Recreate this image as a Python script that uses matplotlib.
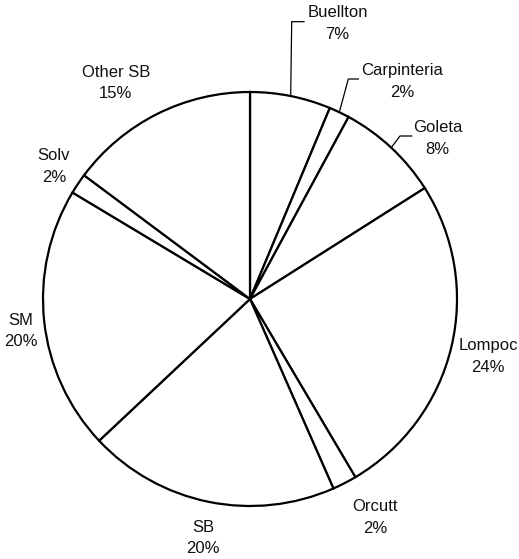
"""
Pie chart of share by city (Santa Barbara county).
Output: out.png (519x559)
"""

import numpy as np
import matplotlib.pyplot as plt

plt.rcParams["font.family"] = ["Liberation Sans", "DejaVu Sans"]

W, H = 519, 559

# slice sizes (percent), clockwise from 12 o'clock
cities = ["Buellton", "Carpinteria", "Goleta", "Lompoc", "Orcutt", "SB", "SM", "Solv", "Other SB"]
shares = [6.3, 1.6, 8.1, 25.5, 1.9, 19.6, 20.6, 1.6, 14.8]
pct_labels = ["7%", "2%", "8%", "24%", "2%", "20%", "20%", "2%", "15%"]

# label centres in pixel coords (top-left origin)
label_pos = [
    (337.5, 23.7), (402.5, 81.7), (437.5, 138.3), (488, 356.5), (375, 517.7),
    (203, 538), (21, 331), (54, 166.5), (115.7, 83),
]
# leader lines: city index -> (elbow, end) in pixels
leaders = {
    0: ((291.7, 21.7), (304, 21.7)),
    1: ((348.3, 79), (358.3, 79)),
    2: ((400, 136), (411.7, 136)),
}

CX, CY, R = 250, 299, 207


def px(x, y):
    return x, H - y


fig = plt.figure(figsize=(W / 100, H / 100), dpi=100)
ax = fig.add_axes([0, 0, 1, 1])

wedges, _ = ax.pie(
    shares,
    center=px(CX, CY),
    radius=R,
    startangle=90,
    counterclock=False,
    colors=["white"] * len(shares),
    wedgeprops=dict(edgecolor="black", linewidth=1.6),
    frame=True,
)
ax.set_xlim(0, W)
ax.set_ylim(0, H)
ax.set_aspect("equal")
ax.axis("off")

for i, (name, pct) in enumerate(zip(cities, pct_labels)):
    x, y = label_pos[i]
    ax.text(*px(x, y), f"{name}\n{pct}", ha="center", va="center",
            fontsize=12, color="#111111", linespacing=1.55)

for i, (elbow, end) in leaders.items():
    w = wedges[i]
    mid = np.deg2rad((w.theta1 + w.theta2) / 2)
    sx, sy = w.center[0] + R * np.cos(mid), w.center[1] + R * np.sin(mid)
    ex, ey = px(*elbow)
    tx, ty = px(*end)
    ax.plot([sx, ex, tx], [sy, ey, ty], color="black", lw=0.9)

fig.savefig("out.png", dpi=100, facecolor="white")
